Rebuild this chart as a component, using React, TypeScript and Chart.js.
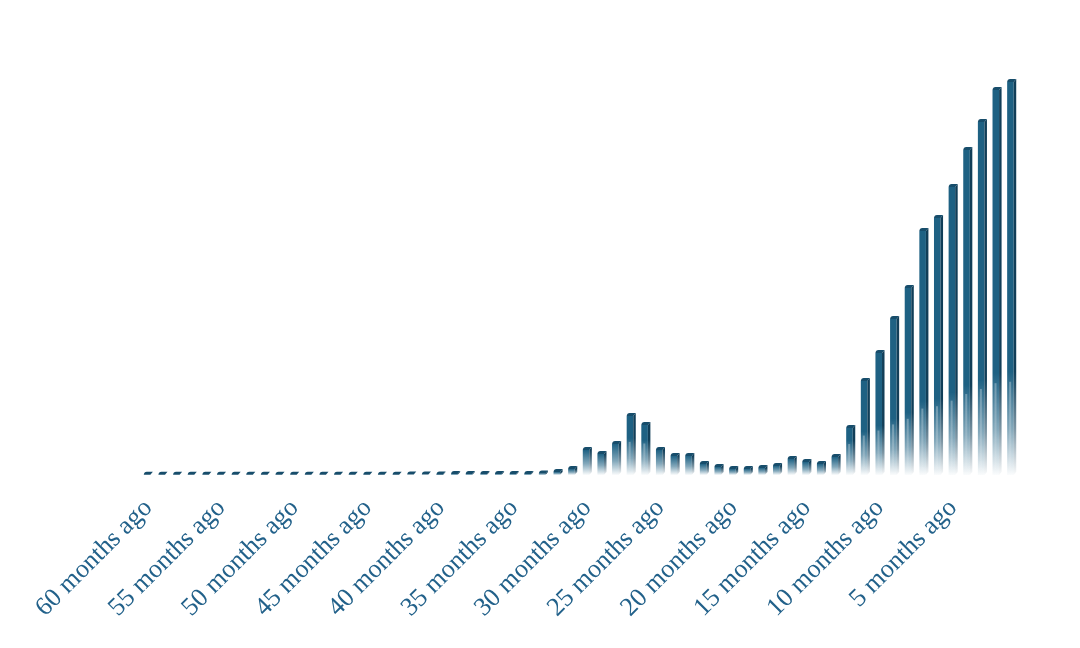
import { useEffect, useRef } from 'react';
import { Chart, registerables } from 'chart.js';

Chart.register(...registerables);

const monthsAgo = [
  60, 59, 58, 57, 56, 55, 54, 53, 52, 51, 50, 49, 48, 47, 46, 45, 44, 43, 42, 41,
  40, 39, 38, 37, 36, 35, 34, 33, 32, 31, 30, 29, 28, 27, 26, 25, 24, 23, 22, 21,
  20, 19, 18, 17, 16, 15, 14, 13, 12, 11, 10, 9, 8, 7, 6, 5, 4, 3, 2, 1,
];
const categories = monthsAgo.map((m) => `${m} months ago`);
const shownTickLabels = [
  '60 months ago', '55 months ago', '50 months ago', '45 months ago', '40 months ago',
  '35 months ago', '30 months ago', '25 months ago', '20 months ago', '15 months ago',
  '10 months ago', '5 months ago',
];
const values = [
  0.3, 0.3, 0.3, 0.3, 0.3, 0.3, 0.3, 0.3, 0.3, 0.3, 0.3, 0.3, 0.3, 0.3, 0.3, 0.3, 0.3, 0.3, 0.5, 0.5,
  0.6, 1, 1, 1, 1, 1, 1, 1.5, 3, 6, 25, 21, 31, 59, 50, 25, 19, 19, 11, 8,
  6, 6, 7, 9, 16, 13, 11, 18, 47, 94, 122, 156, 187, 244, 257, 288, 325, 353, 385, 393,
];

const FRONT = [30, 97, 131];
const SIDE = [17, 62, 88];
const CAP = '#174d6b';

const bar3d = {
  id: 'bar3d',
  afterDatasetsDraw(chart: any) {
    const ctx = chart.ctx;
    const meta = chart.getDatasetMeta(0);
    const base = chart.scales.y.getPixelForValue(0);
    const sw = 2.5;
    const ch = 3;
    meta.data.forEach((el: any) => {
      const { x, y, width } = el.getProps(['x', 'y', 'width'], true);
      const L = x - width / 2;
      const R = x + width / 2;
      const h = base - y;
      const fadeLen = Math.min(h, 25 + 0.2 * h);
      const fadeTop = base - fadeLen;
      ctx.save();
      if (h > 0.5) {
        const f0 = Math.max(0, Math.min(1, (fadeTop - y) / Math.max(h, 1)));
        const g = ctx.createLinearGradient(0, y, 0, base);
        g.addColorStop(0, `rgba(${FRONT.join(',')},1)`);
        g.addColorStop(f0, `rgba(${FRONT.join(',')},1)`);
        g.addColorStop(f0 + (1 - f0) * 0.55, `rgba(${FRONT.join(',')},0.55)`);
        g.addColorStop(1, `rgba(${FRONT.join(',')},0.02)`);
        ctx.fillStyle = g;
        ctx.fillRect(L, y, R - sw - L, h);
        const gs = ctx.createLinearGradient(0, y, 0, base);
        gs.addColorStop(0, `rgba(${SIDE.join(',')},1)`);
        gs.addColorStop(f0, `rgba(${SIDE.join(',')},1)`);
        gs.addColorStop(f0 + (1 - f0) * 0.55, `rgba(${SIDE.join(',')},0.55)`);
        gs.addColorStop(1, `rgba(${SIDE.join(',')},0.02)`);
        ctx.fillStyle = gs;
        ctx.beginPath();
        ctx.moveTo(R - sw, y);
        ctx.lineTo(R, y - ch);
        ctx.lineTo(R, base - ch);
        ctx.lineTo(R - sw, base);
        ctx.closePath();
        ctx.fill();
        if (h > 40) {
          const s0 = fadeTop + fadeLen * 0.1;
          const s1 = base - 6;
          const gh = ctx.createLinearGradient(0, s0, 0, s1);
          gh.addColorStop(0, 'rgba(255,255,255,0.3)');
          gh.addColorStop(1, 'rgba(255,255,255,0.08)');
          ctx.fillStyle = gh;
          ctx.fillRect(L + 2, s0, 2, s1 - s0);
        }
      }
      ctx.fillStyle = CAP;
      ctx.beginPath();
      ctx.moveTo(L, y);
      ctx.quadraticCurveTo(L + 0.3, y - ch, L + sw + 0.5, y - ch);
      ctx.lineTo(R, y - ch);
      ctx.lineTo(R - sw, y);
      ctx.closePath();
      ctx.fill();
      ctx.restore();
    });
  },
};

export default function App() {
  const ref = useRef<HTMLCanvasElement | null>(null);
  useEffect(() => {
    if (!ref.current) return;
    const chart = new Chart(ref.current, {
      type: 'bar',
      data: {
        labels: categories,
        datasets: [
          {
            data: values,
            backgroundColor: 'rgba(0,0,0,0)',
            borderWidth: 0,
            barPercentage: 0.62,
            categoryPercentage: 1,
          },
        ],
      },
      options: {
        animation: false,
        responsive: false,
        devicePixelRatio: 1,
        layout: { padding: { left: 141, right: 61, top: 55, bottom: 0 } },
        plugins: { legend: { display: false }, tooltip: { enabled: false } },
        scales: {
          x: {
            grid: { display: false, drawTicks: false },
            border: { display: false },
            ticks: {
              autoSkip: false,
              maxRotation: 45,
              minRotation: 45,
              padding: 18,
              color: '#22618a',
              font: { family: '"Liberation Serif", "Times New Roman", serif', size: 26 },
              callback: (_v: any, i: number) =>
                shownTickLabels.includes(categories[i]) ? categories[i] : '',
            },
            afterFit: (s: any) => {
              s.height = 173;
            },
          },
          y: { display: false, min: 0, max: 420 },
        },
      },
      plugins: [bar3d],
    });
    return () => chart.destroy();
  }, []);
  return (
    <div style={{ position: 'fixed', left: 0, top: 0, width: 1080, height: 648, background: '#fff' }}>
      <canvas ref={ref} width={1080} height={648} />
    </div>
  );
}
